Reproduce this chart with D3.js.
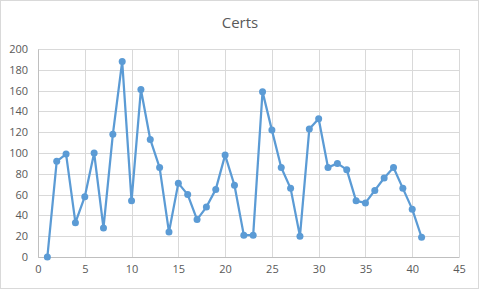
<!DOCTYPE html>
<html>
<head>
<meta charset="utf-8">
<script src="https://cdn.jsdelivr.net/npm/d3@7"></script>
<style>
  body { margin: 0; background: #fff; }
  svg { display: block; font-family: "Open Sans", "Liberation Sans", sans-serif; }
</style>
</head>
<body>
<svg id="chart"></svg>
<script>
var width = 480;
var height = 289;
var margin = {top: 49, bottom: 32, left: 38, right: 21};

// Data
var xValues = d3.range(1, 42);
var certs = [0, 92, 99, 33, 58, 100, 28, 118, 188, 54,
             161, 113, 86, 24, 71, 60, 36, 48, 65, 98,
             69, 21, 21, 159, 122, 86, 66, 20, 123, 133,
             86, 90, 84, 54, 52, 64, 76, 86, 66, 46, 19];
var xTicks = [0, 5, 10, 15, 20, 25, 30, 35, 40, 45];
var yTicks = [0, 20, 40, 60, 80, 100, 120, 140, 160, 180, 200];

var data = xValues.map(function(x, i) { return {x: x, y: certs[i]}; });

var svg = d3.select('#chart')
  .attr('width', width)
  .attr('height', height);

// Outer chart border
svg.append('rect')
  .attr('x', 0.5).attr('y', 0.5)
  .attr('width', width - 2).attr('height', height - 1)
  .attr('fill', '#fff')
  .attr('stroke', '#d9d9d9');

var innerW = width - margin.left - margin.right;
var innerH = height - margin.top - margin.bottom;

var g = svg.append('g')
  .attr('transform', 'translate(' + margin.left + ',' + margin.top + ')');

var x = d3.scaleLinear().domain([0, 45]).range([0, innerW]);
var y = d3.scaleLinear().domain([0, 200]).range([innerH, 0]);

// Gridlines
g.append('g')
  .selectAll('line')
  .data(yTicks)
  .enter().append('line')
    .attr('x1', 0).attr('x2', innerW)
    .attr('y1', function(d) { return Math.round(y(d)) + 0.5; })
    .attr('y2', function(d) { return Math.round(y(d)) + 0.5; })
    .attr('stroke', '#d9d9d9');

g.append('g')
  .selectAll('line')
  .data(xTicks)
  .enter().append('line')
    .attr('y1', 0).attr('y2', innerH)
    .attr('x1', function(d) { return Math.round(x(d)) + 0.5; })
    .attr('x2', function(d) { return Math.round(x(d)) + 0.5; })
    .attr('stroke', '#d9d9d9');

// Axes
var xAxis = g.append('g')
  .attr('transform', 'translate(0,' + innerH + ')')
  .call(d3.axisBottom(x).tickValues(xTicks).tickSize(0).tickPadding(8));
var yAxis = g.append('g')
  .call(d3.axisLeft(y).tickValues(yTicks).tickSize(0).tickPadding(10));

[xAxis, yAxis].forEach(function(a) {
  a.select('.domain').attr('stroke', '#bfbfbf');
  a.selectAll('text')
    .attr('fill', '#595959')
    .attr('font-size', 11)
    .attr('font-family', '"Open Sans", "Liberation Sans", sans-serif');
});

// Line
var line = d3.line()
  .x(function(d) { return x(d.x); })
  .y(function(d) { return y(d.y); });

g.append('path')
  .datum(data)
  .attr('fill', 'none')
  .attr('stroke', '#5b9bd5')
  .attr('stroke-width', 2.25)
  .attr('stroke-linejoin', 'round')
  .attr('d', line);

g.append('g')
  .selectAll('circle')
  .data(data)
  .enter().append('circle')
    .attr('cx', function(d) { return x(d.x); })
    .attr('cy', function(d) { return y(d.y); })
    .attr('r', 3.5)
    .attr('fill', '#5b9bd5');

// Title
svg.append('text')
  .attr('x', 240)
  .attr('y', 28)
  .attr('text-anchor', 'middle')
  .attr('font-size', 15)
  .attr('fill', '#595959')
  .text('Certs');
</script>
</body>
</html>
